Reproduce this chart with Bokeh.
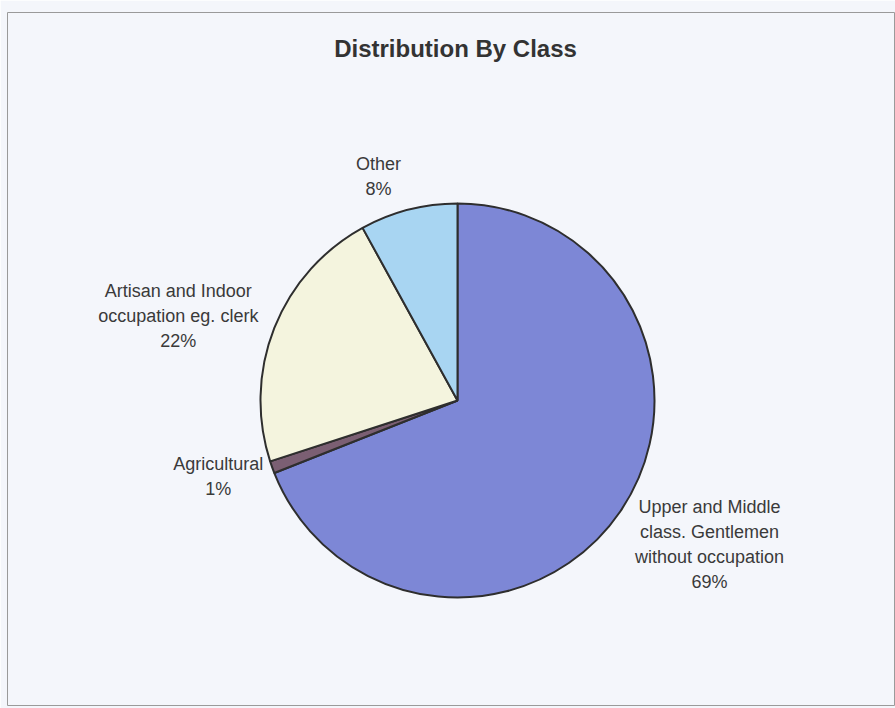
import math
from bokeh.plotting import figure
from bokeh.models import Range1d, ColumnDataSource
from bokeh.core.properties import value
from bokeh.embed import file_html
from bokeh.resources import INLINE

# ---- data ----
title_text = "Distribution By Class"
categories = [
    "Upper and Middle\nclass. Gentlemen\nwithout occupation",
    "Agricultural",
    "Artisan and Indoor\noccupation eg. clerk",
    "Other",
]
percents = [69, 1, 22, 8]

# ---- style ----
slice_colors = ["#7d87d6", "#7b5f73", "#f4f4de", "#a8d5f2"]
bg = "#f4f6fb"
text_color = "#3a3a3a"
FONT = "Liberation Sans"

W, H = 895, 708
LEFT, TOP, BOTTOM = 7, 12, 3
CX, CY = 457, 308      # pie centre (1 unit = 1 px, y up)
R = 197
# label block offsets from the slice's outer mid point (px, y up)
label_nudge = [(89, -33), (-54, -9), (-96, 12), (-30, 33)]

total = float(sum(percents))
starts, ends, mids = [], [], []
cum = 0.0
for v in percents:
    s = cum / total
    cum += v
    e = cum / total
    starts.append(math.pi / 2 - 2 * math.pi * e)
    ends.append(math.pi / 2 - 2 * math.pi * s)
    mids.append(math.pi / 2 - 2 * math.pi * (s + e) / 2)

src = ColumnDataSource(dict(
    start=starts, end=ends, color=slice_colors,
))

lx, ly, ltxt = [], [], []
for cat, v, m, (dx, dy) in zip(categories, percents, mids, label_nudge):
    lx.append(CX + R * math.cos(m) + dx)
    ly.append(CY + R * math.sin(m) + dy)
    ltxt.append(f"{cat}\n{v}%")
lsrc = ColumnDataSource(dict(x=lx, y=ly, text=ltxt))

p = figure(
    width=W, height=H, output_backend="svg", toolbar_location=None,
    x_range=Range1d(LEFT, W), y_range=Range1d(BOTTOM, H - TOP),
    x_axis_type=None, y_axis_type=None,
    min_border_left=LEFT, min_border_right=0, min_border_top=TOP,
    min_border_bottom=BOTTOM,
)
p.grid.visible = False
p.background_fill_color = bg
p.border_fill_color = bg
p.outline_line_color = "#9a9a9a"
p.outline_line_width = 1

p.wedge(x=CX, y=CY, radius=R, radius_units="screen",
        start_angle="start", end_angle="end", direction="anticlock",
        fill_color="color", line_color="#2e2e2e", line_width=2, source=src)

p.text(x="x", y="y", text="text", source=lsrc,
       text_font=value(FONT), text_font_size="18px", text_color=text_color,
       text_align="center", text_baseline="middle", text_line_height=1.25)

p.text(x=[455], y=[H - 48], text=[title_text],
       text_font=value(FONT), text_font_size="24px", text_font_style="bold",
       text_color="#333333", text_align="center", text_baseline="middle")

open("out.html", "w").write(file_html(p, INLINE))
